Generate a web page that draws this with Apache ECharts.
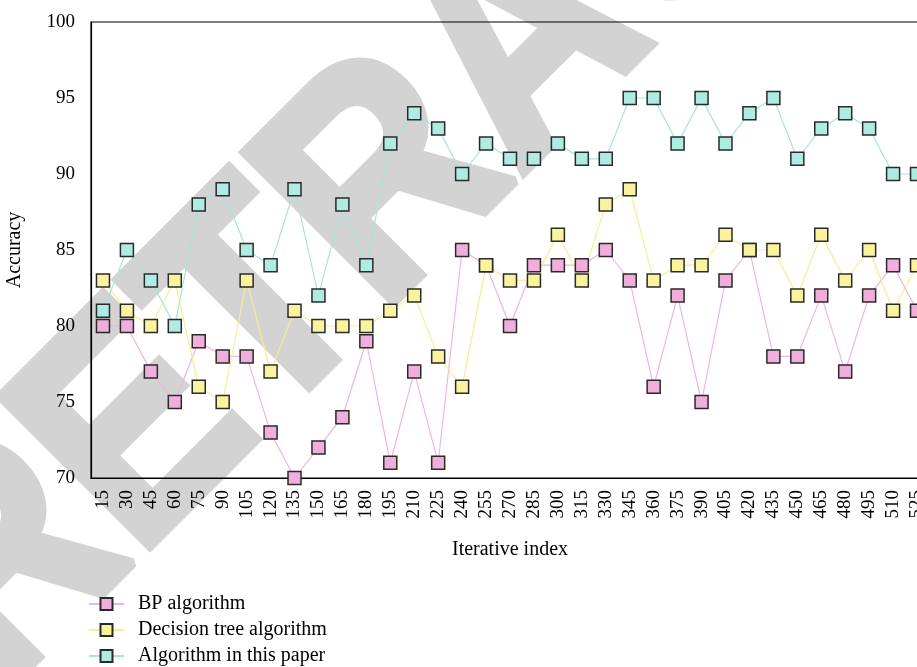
<!DOCTYPE html>
<html>
<head>
<meta charset="utf-8">
<script src="https://cdn.jsdelivr.net/npm/echarts@6/dist/echarts.min.js"></script>
<style>
  html, body { margin: 0; padding: 0; background: #fff; overflow: hidden; }
  #chart { width: 935px; height: 667px; }
</style>
</head>
<body>
<div id="chart"></div>
<script>
// iteration index on the x axis
var iterations = [15, 30, 45, 60, 75, 90, 105, 120, 135, 150, 165, 180, 195, 210, 225,
  240, 255, 270, 285, 300, 315, 330, 345, 360, 375, 390, 405, 420, 435, 450, 465,
  480, 495, 510, 525];

var bpValues = [80, 80, 77, 75, 79, 78, 78, 73, 70, 72, 74, 79, 71, 77, 71,
  85, 84, 80, 84, 84, 84, 85, 83, 76, 82, 75, 83, 85, 78, 78, 82,
  77, 82, 84, 81];

var treeValues = [83, 81, 80, 83, 76, 75, 83, 77, 81, 80, 80, 80, 81, 82, 78,
  76, 84, 83, 83, 86, 83, 88, 89, 83, 84, 84, 86, 85, 85, 82, 86,
  83, 85, 81, 84];

var paperValues = [81, 85, 83, 80, 88, 89, 85, 84, 89, 82, 88, 84, 92, 94, 93,
  90, 92, 91, 91, 92, 91, 91, 95, 95, 92, 95, 92, 94, 95, 91, 93,
  94, 93, 90, 90];

var seriesNames = ["BP algorithm", "Decision tree algorithm", "Algorithm in this paper"];

var serif = "'Liberation Serif', 'DejaVu Serif', serif";

function makeSeries(name, data, fill, line) {
  return {
    name: name,
    type: "line",
    data: data,
    symbol: "rect",
    symbolSize: 13,
    lineStyle: { color: line, width: 1.2 },
    itemStyle: { color: fill, borderColor: "#2a2a2a", borderWidth: 1.5 },
    emphasis: { disabled: true },
    animation: false
  };
}

var myChart = echarts.init(document.getElementById("chart"));
var option = {
  animation: false,
  graphic: [
    {
      // retraction watermark behind the plot
      type: "text",
      z: -10,
      x: 528,
      y: 48,
      scaleX: 0.88,
      rotation: Math.PI / 4,
      style: {
        text: "RETRACTED",
        fontSize: 307,
        fontWeight: "bold",
        fontFamily: "'Liberation Sans', Arial, sans-serif",
        fill: "#d3d3d3",
        stroke: "#d3d3d3",
        lineWidth: 10,
        align: "center",
        verticalAlign: "middle"
      }
    }
  ],
  grid: {
    left: 91,
    top: 22,
    width: 838,
    height: 456,
    outerBoundsMode: "none",
    containLabel: false,
    show: true,
    borderColor: "#000",
    borderWidth: 1.2,
    backgroundColor: "transparent"
  },
  legend: {
    orient: "vertical",
    left: 88,
    top: 594,
    height: 90,
    padding: 0,
    itemWidth: 35,
    itemHeight: 15,
    itemGap: 6,
    data: seriesNames,
    textStyle: {
      fontFamily: serif,
      fontSize: 20,
      color: "#000",
      padding: [0, 0, 0, 9]
    }
  },
  xAxis: {
    type: "category",
    data: iterations,
    boundaryGap: true,
    name: "Iterative index",
    nameLocation: "middle",
    nameGap: 62,
    nameTextStyle: { fontFamily: serif, fontSize: 20, color: "#000" },
    axisLine: { lineStyle: { color: "#000", width: 1.2 } },
    axisTick: { show: false },
    axisLabel: {
      rotate: 90,
      interval: 0,
      margin: 12,
      fontFamily: serif,
      fontSize: 19,
      color: "#000"
    },
    splitLine: { show: false }
  },
  yAxis: {
    type: "value",
    min: 70,
    max: 100,
    interval: 5,
    name: "Accuracy",
    nameLocation: "middle",
    nameGap: 66,
    nameTextStyle: { fontFamily: serif, fontSize: 20, color: "#000" },
    axisLine: { show: true, lineStyle: { color: "#000", width: 1.2 } },
    axisTick: { show: false },
    axisLabel: { margin: 16, fontFamily: serif, fontSize: 19, color: "#000" },
    splitLine: { show: false }
  },
  series: [
    makeSeries(seriesNames[0], bpValues, "#efaedc", "#f2b3e0"),
    makeSeries(seriesNames[1], treeValues, "#faf39e", "#f8ec94"),
    makeSeries(seriesNames[2], paperValues, "#aeebe0", "#a6e6da")
  ]
};

option && myChart.setOption(option);
</script>
</body>
</html>
